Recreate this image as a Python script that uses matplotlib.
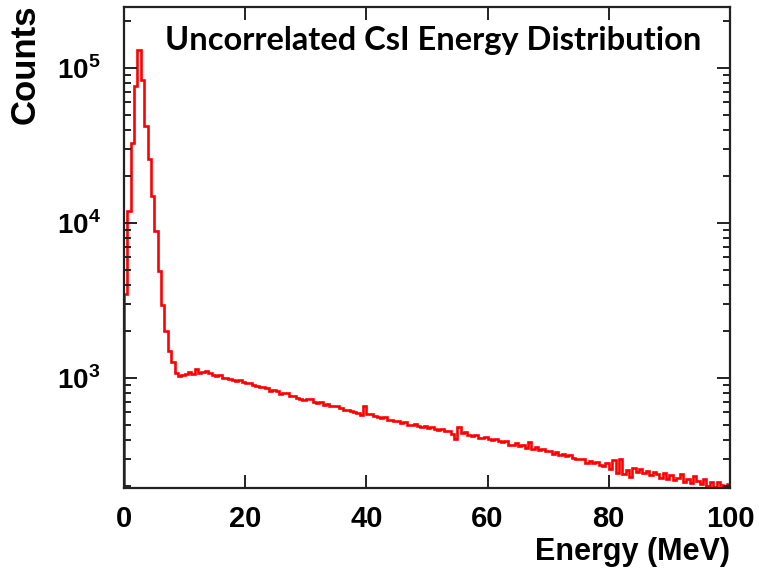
import numpy as np
import matplotlib
matplotlib.use("Agg")
import matplotlib.pyplot as plt
from matplotlib.ticker import LogLocator, FixedLocator, NullLocator, FuncFormatter

plt.rcParams['mathtext.fontset'] = 'custom'
plt.rcParams['mathtext.rm'] = 'Liberation Sans:bold'
plt.rcParams['mathtext.bf'] = 'Liberation Sans:bold'

# Histogram range and counts per bin (180 bins, 0-100 MeV)
e_min, e_max = 0, 100
counts = [
    # 0-5 MeV
    3500, 12000, 33000, 77000, 130000, 84000, 42000, 26000, 15000,
    # 5-10 MeV
    8900, 4900, 2950, 2000, 1490, 1260, 1080, 1030, 1050,
    # 10-15 MeV
    1060, 1085, 1060, 1140, 1080, 1090, 1110, 1075, 1050,
    # 15-20 MeV
    1035, 1040, 1000, 1005, 990, 975, 960, 965, 935,
    # 20-25 MeV
    925, 930, 905, 890, 880, 870, 865, 825, 835,
    # 25-30 MeV
    820, 790, 800, 798, 760, 765, 748, 735, 722,
    # 30-35 MeV
    730, 730, 695, 690, 700, 672, 680, 655, 660,
    # 35-40 MeV
    655, 640, 622, 625, 615, 602, 598, 580, 655,
    # 40-45 MeV
    585, 588, 565, 560, 548, 556, 535, 532, 530,
    # 45-50 MeV
    525, 512, 520, 500, 498, 505, 488, 482, 488,
    # 50-55 MeV
    478, 482, 465, 462, 470, 452, 452, 438, 405,
    # 55-60 MeV
    482, 440, 448, 428, 425, 428, 412, 412, 418,
    # 60-65 MeV
    405, 400, 405, 392, 386, 392, 372, 372, 378,
    # 65-70 MeV
    364, 372, 355, 388, 348, 360, 342, 346, 338,
    # 70-75 MeV
    338, 325, 335, 320, 324, 312, 318, 304, 300,
    # 75-80 MeV
    298, 298, 284, 292, 282, 285, 276, 270, 284,
    # 80-85 MeV
    258, 294, 245, 302, 240, 256, 228, 262, 248,
    # 85-90 MeV
    258, 242, 250, 236, 246, 240, 226, 244, 224,
    # 90-95 MeV
    236, 218, 226, 240, 212, 224, 210, 232, 216,
    # 95-100 MeV
    208, 222, 202, 214, 198, 212, 204, 196, 208,
]
x_ticks = [0, 20, 40, 60, 80, 100]
y_ticks = [1e3, 1e4, 1e5]

edges = np.linspace(e_min, e_max, len(counts) + 1)

fig = plt.figure(figsize=(7.59, 5.69), dpi=100)
ax = fig.add_axes([0.1634, 0.1424, 0.7984, 0.8453])

ax.stairs(counts, edges, color='#ff0000', linewidth=1.9)

ax.set_yscale('log')
ax.set_xlim(e_min, e_max)
ax.set_ylim(195, 2.48e5)

# ROOT style ticks: inside, on all four sides
ax.xaxis.set_major_locator(FixedLocator(x_ticks))
ax.xaxis.set_minor_locator(NullLocator())
ax.yaxis.set_major_locator(FixedLocator(y_ticks))
ax.yaxis.set_minor_locator(LogLocator(base=10, subs=np.arange(2, 10)))
ax.yaxis.set_minor_formatter(FuncFormatter(lambda v, p: ''))
ax.yaxis.set_major_formatter(FuncFormatter(lambda v, p: r'$10^{%d}$' % round(np.log10(v))))

ax.tick_params(which='both', direction='in', top=True, right=True, width=1.4, color='#222222')
ax.tick_params(which='major', length=9.5)
ax.tick_params(which='minor', length=5)
ax.tick_params(axis='x', pad=12, labelsize=21)
ax.tick_params(axis='y', pad=17, labelsize=20)
for lab in ax.get_xticklabels():
    lab.set_fontfamily('Liberation Sans')
    lab.set_fontweight('bold')

for sp in ax.spines.values():
    sp.set_linewidth(1.6)
    sp.set_color('#222222')

# Axis titles, ROOT style (top left / bottom right)
fig.text(25 / 759, 1 - 4 / 569, 'Counts', rotation=90, ha='center', va='top',
         fontsize=25, fontweight='bold', family='Liberation Sans')
fig.text(730 / 759, 1 - 552 / 569, 'Energy (MeV)', ha='right', va='center',
         fontsize=22, fontweight='bold', family='Liberation Sans')

ax.text(0.51, 0.93, 'Uncorrelated CsI Energy Distribution', transform=ax.transAxes,
        ha='center', va='center', fontsize=23.5, fontweight='bold', family='Lato')

fig.savefig('out.png', dpi=100)
